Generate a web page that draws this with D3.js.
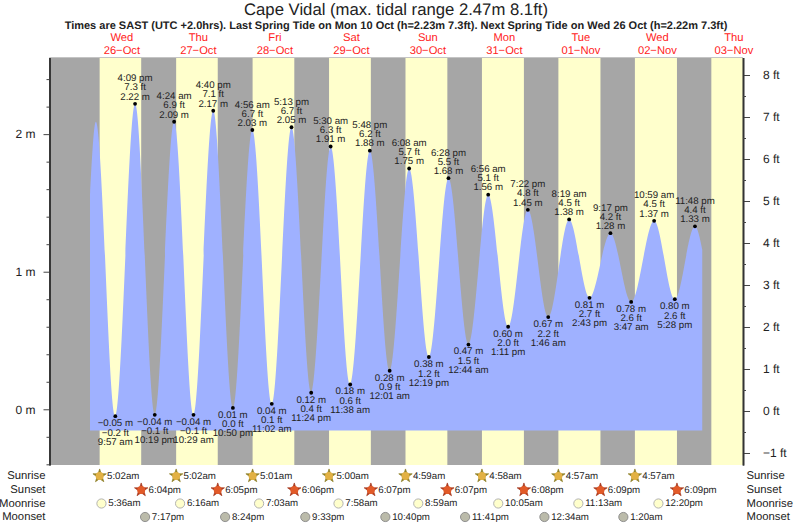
<!DOCTYPE html>
<html lang="en">
<head>
    <meta charset="UTF-8">
    <title>Cape Vidal tide chart</title>
    <script src="https://d3js.org/d3.v7.min.js"></script>
    <style>
        html, body { margin: 0; padding: 0; background: #fff; }
        svg { display: block; }
        text { font-family: "Liberation Sans", Arial, sans-serif; fill: #222; text-rendering: geometricPrecision; }
        .tide { font-size: 9.7px; text-anchor: middle; dominant-baseline: central; }
        .event { font-size: 9.7px; dominant-baseline: central; }
        .rowname { font-size: 11.3px; dominant-baseline: central; }
        .day { font-size: 11.2px; fill: #f22; text-anchor: middle; }
        .axislabel { font-size: 12px; }
    </style>
</head>
<body>
    <svg width="793" height="525"></svg>

    <script>
        // tide extremes, first and last entries are where the curve is cut off
        var tideTimes = [
            '10-26 02:00', '10-26 03:50', '10-26 09:57', '10-26 16:09', '10-26 22:19',
            '10-27 04:24', '10-27 10:29', '10-27 16:40', '10-27 22:50',
            '10-28 04:56', '10-28 11:02', '10-28 17:13', '10-28 23:24',
            '10-29 05:30', '10-29 11:38', '10-29 17:48',
            '10-30 00:01', '10-30 06:08', '10-30 12:19', '10-30 18:28',
            '10-31 00:44', '10-31 06:56', '10-31 13:11', '10-31 19:22',
            '11-01 01:46', '11-01 08:19', '11-01 14:43', '11-01 21:17',
            '11-02 03:47', '11-02 10:59', '11-02 17:28', '11-02 23:48',
            '11-03 02:05'
        ];
        var tideMetres = [
            1.55, 2.09, -0.05, 2.22, -0.04,
            2.09, -0.04, 2.17, 0.01,
            2.03, 0.04, 2.05, 0.12,
            1.91, 0.18, 1.88,
            0.28, 1.75, 0.38, 1.68,
            0.47, 1.56, 0.60, 1.45,
            0.67, 1.38, 0.81, 1.28,
            0.78, 1.37, 0.80, 1.33,
            1.16
        ];
        var tideFeet = [
            '', '', '−0.2', '7.3', '−0.1',
            '6.9', '−0.1', '7.1', '0.0',
            '6.7', '0.1', '6.7', '0.4',
            '6.3', '0.6', '6.2',
            '0.9', '5.7', '1.2', '5.5',
            '1.5', '5.1', '2.0', '4.8',
            '2.2', '4.5', '2.7', '4.2',
            '2.6', '4.5', '2.6', '4.4',
            ''
        ];
        var tideClock = [
            '', '', '9:57 am', '4:09 pm', '10:19 pm',
            '4:24 am', '10:29 am', '4:40 pm', '10:50 pm',
            '4:56 am', '11:02 am', '5:13 pm', '11:24 pm',
            '5:30 am', '11:38 am', '5:48 pm',
            '12:01 am', '6:08 am', '12:19 pm', '6:28 pm',
            '12:44 am', '6:56 am', '1:11 pm', '7:22 pm',
            '1:46 am', '8:19 am', '2:43 pm', '9:17 pm',
            '3:47 am', '10:59 am', '5:28 pm', '11:48 pm',
            ''
        ];
        var tideFloor = -0.155;

        var dayNames = ['Wed', 'Thu', 'Fri', 'Sat', 'Sun', 'Mon', 'Tue', 'Wed', 'Thu'];
        var dayDates = ['10-26', '10-27', '10-28', '10-29', '10-30', '10-31', '11-01', '11-02', '11-03'];
        var dayLabels = ['26−Oct', '27−Oct', '28−Oct', '29−Oct', '30−Oct', '31−Oct', '01−Nov', '02−Nov', '03−Nov'];

        var sunriseTimes = ['10-26 05:02', '10-27 05:02', '10-28 05:01', '10-29 05:00', '10-30 04:59', '10-31 04:58', '11-01 04:57', '11-02 04:57'];
        var sunsetTimes = ['10-26 18:04', '10-27 18:05', '10-28 18:06', '10-29 18:07', '10-30 18:07', '10-31 18:08', '11-01 18:09', '11-02 18:09'];
        var lastSunrise = '11-03 04:56';
        var moonriseTimes = ['10-26 05:36', '10-27 06:16', '10-28 07:03', '10-29 07:58', '10-30 08:59', '10-31 10:05', '11-01 11:13', '11-02 12:20'];
        var moonsetTimes = ['10-26 19:17', '10-27 20:24', '10-28 21:33', '10-29 22:40', '10-30 23:41', '11-01 00:34', '11-02 01:20'];

        var metreTicks = [0, 1, 2];
        var metreMinor = [-0.4, -0.2, 0.2, 0.4, 0.6, 0.8, 1.2, 1.4, 1.6, 1.8, 2.2, 2.4];
        var feetTicks = [-1, 0, 1, 2, 3, 4, 5, 6, 7, 8];
        var feetMinor = [-0.5, 0.5, 1.5, 2.5, 3.5, 4.5, 5.5, 6.5, 7.5];

        var parseTime = d3.utcParse('%Y-%m-%d %H:%M');
        function when(s) { return parseTime('2022-' + s); }

        function clock12(s) {
            var t = when(s);
            return d3.utcFormat('%-I:%M')(t) + d3.utcFormat('%p')(t).toLowerCase();
        }

        var svg = d3.select('svg');
        var top_ = 57.5, bottom = 465, left = 49.5, right = 743;

        var x = d3.scaleUtc()
            .domain([when('10-25 13:18'), when('11-03 14:52')])
            .range([left, right]);
        var yM = d3.scaleLinear().domain([-0.405, 2.557]).range([bottom, top_]);
        var yFt = d3.scaleLinear().domain([-1.286, 8.417]).range([bottom, top_]);

        // night background, daylight stripes on top
        svg.append('rect')
            .attr('x', left).attr('y', top_)
            .attr('width', right - left).attr('height', bottom - top_)
            .attr('fill', '#a6a6a6');

        var dayStarts = sunriseTimes.concat([lastSunrise]);
        var dayEnds = sunsetTimes.concat(['11-03 14:52']);
        svg.selectAll('.daylight')
            .data(dayStarts)
            .enter().append('rect')
            .attr('class', 'daylight')
            .attr('x', d => x(when(d)))
            .attr('y', top_)
            .attr('width', (d, i) => x(when(dayEnds[i])) - x(when(d)))
            .attr('height', bottom - top_)
            .attr('fill', '#ffffcc');

        svg.append('line')
            .attr('x1', left).attr('x2', right)
            .attr('y1', top_).attr('y2', top_)
            .attr('stroke', '#c4c4c4');

        // water
        var tide = tideTimes.map(function(t, i) {
            return { t: when(t), m: tideMetres[i], ft: tideFeet[i], clock: tideClock[i] };
        });
        var area = d3.area()
            .x(d => x(d.t))
            .y0(yM(tideFloor))
            .y1(d => yM(d.m))
            .curve(d3.curveMonotoneX);
        svg.append('path')
            .datum(tide)
            .attr('d', area)
            .attr('fill', '#9fb1ff');

        // axes
        function styleAxis(g) {
            g.selectAll('.domain').attr('stroke', '#333').attr('stroke-width', 1.6);
            g.selectAll('.tick line').attr('stroke', '#444');
            g.selectAll('.tick text').attr('class', 'axislabel');
        }
        function fmtFt(d) { return (d < 0 ? '−' : '') + Math.abs(d) + ' ft'; }

        svg.append('g')
            .attr('transform', 'translate(' + left + ',0)')
            .call(d3.axisLeft(yM).tickValues(metreTicks).tickSize(6).tickPadding(8).tickSizeOuter(0).tickFormat(d => d + ' m'))
            .call(styleAxis);
        svg.append('g')
            .attr('transform', 'translate(' + left + ',0)')
            .call(d3.axisLeft(yM).tickValues(metreMinor).tickSize(3).tickSizeOuter(0).tickFormat(''))
            .call(styleAxis);
        svg.append('g')
            .attr('transform', 'translate(' + right + ',0)')
            .call(d3.axisRight(yFt).tickValues(feetTicks).tickSize(7).tickPadding(13).tickSizeOuter(0).tickFormat(fmtFt))
            .call(styleAxis);
        svg.append('g')
            .attr('transform', 'translate(' + right + ',0)')
            .call(d3.axisRight(yFt).tickValues(feetMinor).tickSize(3).tickSizeOuter(0).tickFormat(''))
            .call(styleAxis);

        // high and low labels
        var marked = tide.filter(d => d.clock !== '');
        function isHigh(d) {
            var i = tide.indexOf(d);
            return d.m > tide[i - 1].m;
        }
        svg.selectAll('.dot')
            .data(marked)
            .enter().append('circle')
            .attr('class', 'dot')
            .attr('cx', d => x(d.t))
            .attr('cy', d => yM(d.m))
            .attr('r', 1.9)
            .attr('fill', '#000');

        function fmtM(d) { return (d.m < 0 ? '−' + Math.abs(d.m).toFixed(2) : d.m.toFixed(2)) + ' m'; }
        var rows = [
            { high: -25, low: 26, text: d => d.clock },
            { high: -16, low: 17, text: d => d.ft + ' ft' },
            { high: -6.7, low: 7.3, text: fmtM }
        ];
        rows.forEach(function(row) {
            svg.selectAll(null)
                .data(marked)
                .enter().append('text')
                .attr('class', 'tide')
                .attr('x', d => x(d.t))
                .attr('y', d => yM(d.m) + (isHigh(d) ? row.high : row.low))
                .text(row.text);
        });

        // title
        svg.append('text')
            .attr('x', 396).attr('y', 15)
            .attr('text-anchor', 'middle')
            .style('font-size', '16.7px')
            .text('Cape Vidal (max. tidal range 2.47m 8.1ft)');
        svg.append('text')
            .attr('x', 396).attr('y', 29)
            .attr('text-anchor', 'middle')
            .style('font-size', '11px')
            .style('font-weight', 'bold')
            .text('Times are SAST (UTC +2.0hrs). Last Spring Tide on Mon 10 Oct (h=2.23m 7.3ft). Next Spring Tide on Wed 26 Oct (h=2.22m 7.3ft)');

        // day names over noon
        svg.selectAll('.dayname')
            .data(dayNames)
            .enter().append('text')
            .attr('class', 'day dayname')
            .attr('x', (d, i) => x(when(dayDates[i] + ' 12:00')))
            .attr('y', 41)
            .text(d => d);
        svg.selectAll('.daydate')
            .data(dayLabels)
            .enter().append('text')
            .attr('class', 'day daydate')
            .attr('x', (d, i) => x(when(dayDates[i] + ' 12:00')))
            .attr('y', 53.5)
            .text(d => d);

        // sun and moon rows
        var rowNames = ['Sunrise', 'Sunset', 'Moonrise', 'Moonset'];
        var rowY = [476, 490, 503.5, 517];
        rowNames.forEach(function(name, i) {
            svg.append('text').attr('class', 'rowname').attr('x', 45.5).attr('y', rowY[i]).attr('text-anchor', 'end').text(name);
            svg.append('text').attr('class', 'rowname').attr('x', 746.5).attr('y', rowY[i]).text(name);
        });

        var star = d3.symbol().type(d3.symbolStar).size(56);
        function drawSuns(times, y, edge, fill) {
            var g = svg.selectAll(null).data(times).enter().append('g')
                .attr('transform', d => 'translate(' + x(when(d)) + ',' + y + ')');
            g.append('path').attr('d', star).attr('fill', edge).attr('stroke', edge).attr('stroke-width', 0.7);
            g.append('circle').attr('r', 4).attr('fill', fill);
            g.append('text').attr('class', 'event').attr('x', 7.4).text(clock12);
        }
        function drawMoons(times, y, edge, fill) {
            var g = svg.selectAll(null).data(times).enter().append('g')
                .attr('transform', d => 'translate(' + x(when(d)) + ',' + y + ')');
            g.append('circle').attr('r', 4.6).attr('fill', fill).attr('stroke', edge).attr('stroke-width', 0.9);
            g.append('text').attr('class', 'event').attr('x', 6.8).text(clock12);
        }
        drawSuns(sunriseTimes, rowY[0], '#8f7f25', '#e2b144');
        drawSuns(sunsetTimes, rowY[1], '#a8381c', '#e25a28');
        drawMoons(moonriseTimes, rowY[2], '#aaa', '#ffffcc');
        drawMoons(moonsetTimes, rowY[3], '#888', '#bbbbaa');
    </script>
</body>
</html>
